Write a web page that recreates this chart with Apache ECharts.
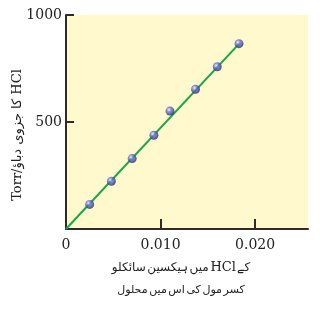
<!DOCTYPE html>
<html>
<head>
<meta charset="utf-8">
<script src="https://cdn.jsdelivr.net/npm/echarts@6/dist/echarts.min.js"></script>
<style>html,body{margin:0;padding:0;background:#fff}#c{width:333px;height:310px}</style>
</head>
<body>
<div id="c"></div>
<script>
// Data
var moleFraction = [0.0025, 0.0048, 0.0070, 0.0093, 0.0110, 0.0137, 0.0160, 0.0183];
var pressure     = [115, 223, 329, 438, 551, 653, 758, 866];
var fitLineX = [0, 0.0184];
var fitLineY = [0, 870];
var xTicks = [0.010, 0.020];
var xTickLabels = [0, 0.010, 0.020];
var yTickLabels = [500, 1000];

var yTitle = 'Torr/کا جزوی دباؤ HCl';
// words as they appear left-to-right in the reference
var xTitleLine1 = ['سائکلو', 'ہیکسین', 'میں', 'HCl', 'کے'];
var xTitleLine2 = ['محلول', 'میں', 'اس', 'کی', 'مول', 'کسر'];

function richLine(words, style) {
  return words.map(function (w) {
    return /^[A-Za-z]+$/.test(w) ? '{l|' + w + '}' : '{' + style + '|' + w + '}';
  }).join('{s| }');
}
var xTitle = richLine(xTitleLine1, 'u') + '\n' + richLine(xTitleLine2, 'v');

var pts = moleFraction.map(function (x, i) { return [x, pressure[i]]; });
var fit = fitLineX.map(function (x, i) { return [x, fitLineY[i]]; });

var FONT = "'DejaVu Serif', 'DejaVu Sans', serif";
var chart = echarts.init(document.getElementById('c'), null, {renderer: 'canvas'});
chart.setOption({
  animation: false,
  backgroundColor: '#ffffff',
  grid: {left: 66, right: 25, top: 15, bottom: 81, show: true,
         outerBoundsMode: 'none', containLabel: false,
         backgroundColor: '#FFF9CD', borderWidth: 0},
  xAxis: {
    type: 'value', min: 0, max: 0.0256, interval: 0.01,
    axisLine: {show: true, lineStyle: {color: '#2b2b2b', width: 2}},
    axisTick: {show: true, inside: true, length: 10, customValues: xTicks,
               lineStyle: {color: '#2b2b2b', width: 2}},
    axisLabel: {customValues: xTickLabels, margin: 9, color: '#222',
                fontFamily: FONT, fontSize: 14,
                formatter: function (v) { return v === 0 ? '0' : v.toFixed(3); }},
    splitLine: {show: false},
    name: xTitle, nameLocation: 'middle', nameGap: 28, nameMoveOverlap: false,
    nameTextStyle: {fontFamily: "'DejaVu Sans', sans-serif", fontSize: 13,
                    color: '#222', lineHeight: 22, padding: [0, 12, 0, 0],
                    rich: {
                      u: {fontFamily: "'DejaVu Sans', sans-serif", fontSize: 12, color: '#222', lineHeight: 22},
                      v: {fontFamily: "'DejaVu Sans', sans-serif", fontSize: 11, color: '#222', lineHeight: 22},
                      l: {fontFamily: "'DejaVu Serif', serif", fontSize: 13, color: '#222', lineHeight: 22},
                      s: {fontFamily: "'DejaVu Sans', sans-serif", fontSize: 5, lineHeight: 22}
                    }}
  },
  yAxis: {
    type: 'value', min: 0, max: 1000, interval: 500,
    axisLine: {show: true, lineStyle: {color: '#2b2b2b', width: 2}},
    axisTick: {show: true, inside: true, length: 8, customValues: yTickLabels,
               lineStyle: {color: '#2b2b2b', width: 2}},
    axisLabel: {customValues: yTickLabels, margin: 4, color: '#222',
                fontFamily: FONT, fontSize: 14,
                formatter: function (v) { return String(v); }},
    splitLine: {show: false},
    name: yTitle, nameLocation: 'middle', nameGap: 42, nameRotate: 90,
    nameMoveOverlap: false,
    nameTextStyle: {fontFamily: FONT, fontSize: 13, color: '#222',
                    padding: [0, 26, 0, 0]}
  },
  series: [
    {type: 'line', data: fit, symbol: 'none', silent: true,
     lineStyle: {color: '#1aa64a', width: 2}, z: 2},
    {type: 'scatter', data: pts, symbolSize: 9, z: 3,
     itemStyle: {color: {type: 'radial', x: 0.38, y: 0.35, r: 0.7,
       colorStops: [{offset: 0, color: '#eef0ff'},
                    {offset: 0.35, color: '#6d76d2'},
                    {offset: 1, color: '#1c216c'}]}}}
  ]
});
</script>
</body>
</html>
